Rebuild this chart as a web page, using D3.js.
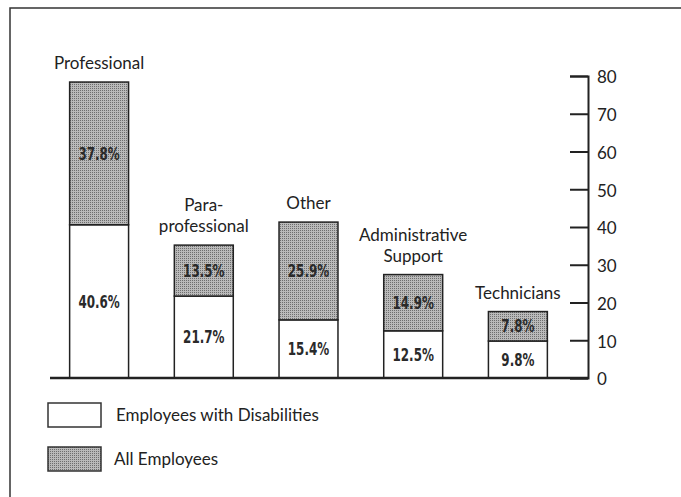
<!DOCTYPE html>
<html>
<head>
<meta charset="utf-8">
<script src="https://cdn.jsdelivr.net/npm/d3@7"></script>
<style>
  html, body { margin: 0; padding: 0; background: #fff; }
  svg { display: block; }
  .cat { font-family: Lato, "Noto Sans", sans-serif; font-size: 17px; fill: #222; }
  .val { font-family: "Liberation Sans Narrow", "DejaVu Sans Condensed", sans-serif; font-weight: bold; font-size: 17px; fill: #2a2a2a; }
  .tick text { font-family: Lato, "Noto Sans", sans-serif; font-size: 17px; fill: #222; }
  .leg { font-family: Lato, "Noto Sans", sans-serif; font-size: 17px; fill: #222; }
</style>
</head>
<body>
<div id="chart"></div>
<script>
// datos
const categories = ['Professional', 'Para-professional', 'Other', 'Administrative Support', 'Technicians'];
const catLines   = [['Professional'], ['Para-', 'professional'], ['Other'], ['Administrative', 'Support'], ['Technicians']];
const disabled   = [40.6, 21.7, 15.4, 12.5, 9.8];   // Employees with Disabilities
const allEmp     = [37.8, 13.5, 25.9, 14.9, 7.8];   // All Employees
const yTicks     = [0, 10, 20, 30, 40, 50, 60, 70, 80];
const legendItems = ['Employees with Disabilities', 'All Employees'];

const W = 681, H = 497;
const ink = '#222';

const svg = d3.select('#chart')
  .append('svg')
    .attr('width', W)
    .attr('height', H);

// trama punteada para "All Employees"
const pat = svg.append('defs')
  .append('pattern')
    .attr('id', 'stipple')
    .attr('patternUnits', 'userSpaceOnUse')
    .attr('width', 2)
    .attr('height', 2);
pat.append('rect').attr('width', 2).attr('height', 2).attr('fill', '#bababa');
pat.append('rect').attr('width', 1).attr('height', 1).attr('fill', '#6e6e6e');

// marco
svg.append('path')
  .attr('d', `M10,${H} V8 H${W}`)
  .attr('fill', 'none')
  .attr('stroke', '#333')
  .attr('stroke-width', 1.5);

// escalas
const x = d3.scaleBand()
  .domain(categories)
  .range([46.6, 570.4])
  .paddingInner(0.437)
  .paddingOuter(0.22);

const y = d3.scaleLinear()
  .domain([0, 80])
  .range([378, 76]);

// eje derecho con marcas hacia la izquierda
const yAxis = d3.axisRight(y)
  .tickValues(yTicks)
  .tickSize(-18)
  .tickSizeOuter(-18)
  .tickPadding(9);

const ax = svg.append('g')
  .attr('transform', 'translate(588,0)')
  .call(yAxis);
ax.select('.domain').attr('stroke', ink).attr('stroke-width', 2);
ax.selectAll('.tick line').attr('stroke', ink).attr('stroke-width', 2);
ax.selectAll('.tick text').attr('dy', '0.4em');

// pilas
const stacks = categories.map((c, i) => ({
  cat: c,
  lines: catLines[i],
  segs: [
    { key: 'dis', y0: 0, y1: disabled[i], v: disabled[i] },
    { key: 'all', y0: disabled[i], y1: disabled[i] + allEmp[i], v: allEmp[i] }
  ]
}));

const g = svg.append('g');

const bars = g.selectAll('g.bar')
  .data(stacks)
  .join('g')
    .attr('class', 'bar');

bars.selectAll('rect')
  .data(d => d.segs.map(s => ({ ...s, cat: d.cat })))
  .join('rect')
    .attr('x', d => x(d.cat))
    .attr('width', x.bandwidth())
    .attr('y', d => y(d.y1))
    .attr('height', d => y(d.y0) - y(d.y1))
    .attr('fill', d => d.key === 'all' ? 'url(#stipple)' : '#fff')
    .attr('stroke', ink)
    .attr('stroke-width', 1.5);

// valores: letra condensada (se estrecha en horizontal)
bars.selectAll('text.val')
  .data(d => d.segs.map(s => ({ ...s, cat: d.cat })))
  .join('text')
    .attr('class', 'val')
    .attr('transform', d => `translate(${x(d.cat) + x.bandwidth() / 2},${(y(d.y0) + y(d.y1)) / 2}) scale(0.78,1)`)
    .attr('dy', '0.36em')
    .attr('text-anchor', 'middle')
    .text(d => `${d.v.toFixed(1)}%`);

// rótulos de categoría
bars.each(function (d) {
  const top = y(d.segs[1].y1);
  const n = d.lines.length;
  const t = d3.select(this).append('text')
    .attr('class', 'cat')
    .attr('text-anchor', 'middle');
  d.lines.forEach((ln, j) => {
    t.append('tspan')
      .attr('x', x(d.cat) + x.bandwidth() / 2)
      .attr('y', top - 13 - (n - 1 - j) * 21)
      .text(ln);
  });
});

// línea base
svg.append('line')
  .attr('x1', 50).attr('x2', 588)
  .attr('y1', y(0)).attr('y2', y(0))
  .attr('stroke', ink)
  .attr('stroke-width', 2.5);

// leyenda
const legend = svg.append('g')
  .attr('transform', 'translate(48,403)');

legendItems.forEach((lab, i) => {
  const y0 = i * 44;
  legend.append('rect')
    .attr('x', 0).attr('y', y0)
    .attr('width', 53).attr('height', 24)
    .attr('fill', i === 0 ? '#fff' : 'url(#stipple)')
    .attr('stroke', '#333')
    .attr('stroke-width', 1.5);
  legend.append('text')
    .attr('class', 'leg')
    .attr('x', i === 0 ? 68 : 66)
    .attr('y', y0 + 12)
    .attr('dy', '0.36em')
    .text(lab);
});
</script>
</body>
</html>
